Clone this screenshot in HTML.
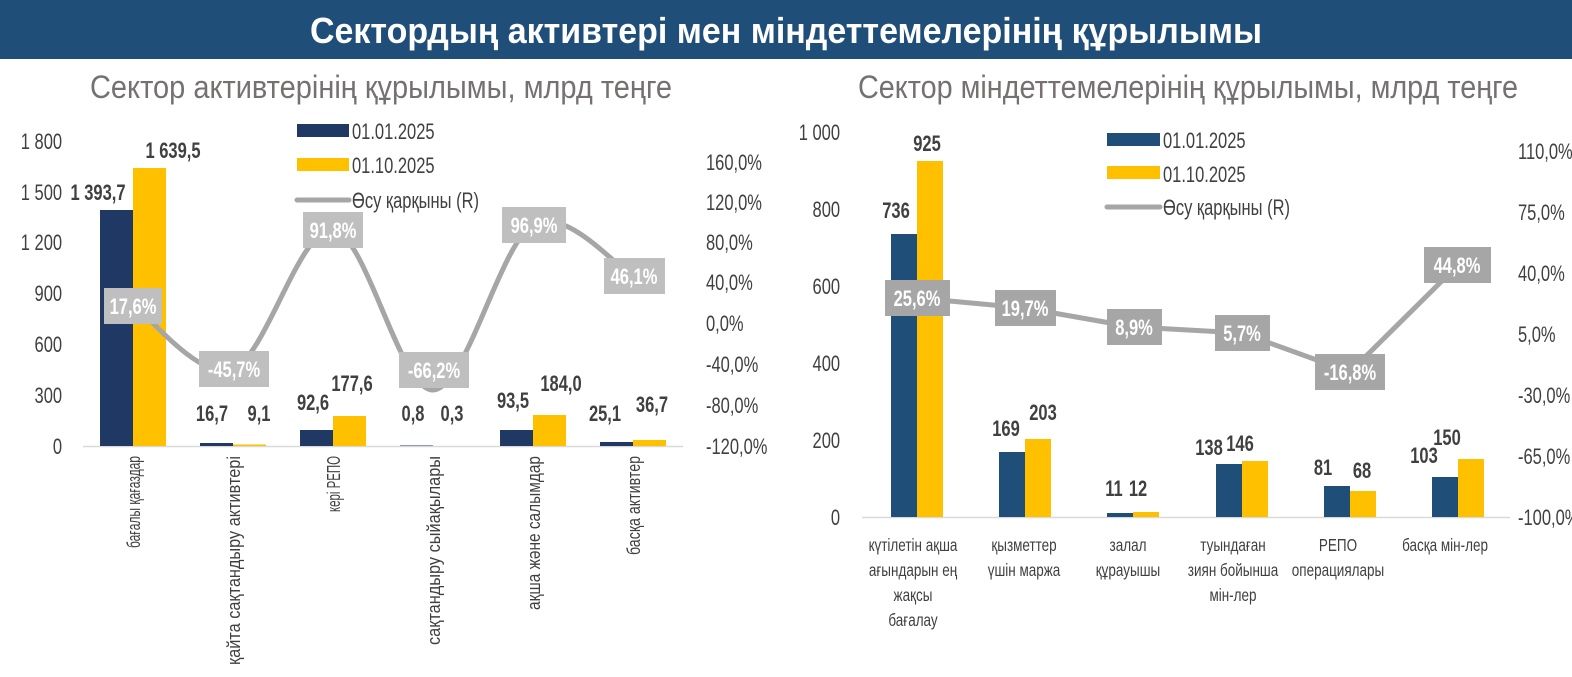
<!DOCTYPE html>
<html><head><meta charset="utf-8"><style>
body{margin:0;background:#fff;}
svg{display:block;font-family:"Liberation Sans Narrow","Liberation Sans",sans-serif;}
.t{fill:#404040;font-size:22px;}
.b{fill:#404040;font-size:22px;font-weight:bold;}
.w{fill:#fff;font-size:22px;font-weight:bold;}
.c{fill:#404040;font-size:18px;}
.sx text,text.sx{transform-box:fill-box;transform-origin:center;transform:scaleX(.75);}
.sl text,text.sl{transform-box:fill-box;transform-origin:left;transform:scaleX(.75);}
.sr text{transform-box:fill-box;transform-origin:right;transform:scaleX(.75);}
</style></head><body>
<svg width="1572" height="677" viewBox="0 0 1572 677">
<rect x="0" y="0" width="1572" height="59" fill="#1f4e79"/>
<text x="786" y="43" fill="#fff" font-size="36" font-weight="bold" text-anchor="middle" textLength="952" lengthAdjust="spacingAndGlyphs">Сектордың активтері мен міндеттемелерінің құрылымы</text>
<text x="90" y="98" fill="#767171" font-size="32" textLength="582" lengthAdjust="spacingAndGlyphs">Сектор активтерінің құрылымы, млрд теңге</text>
<text x="858" y="98" fill="#767171" font-size="32" textLength="660" lengthAdjust="spacingAndGlyphs">Сектор міндеттемелерінің құрылымы, млрд теңге</text>

<!-- LEFT CHART -->
<g class="t sr" text-anchor="end">
<text x="62" y="149">1 800</text><text x="62" y="200">1 500</text><text x="62" y="250">1 200</text>
<text x="62" y="301">900</text><text x="62" y="352">600</text><text x="62" y="403">300</text><text x="62" y="454">0</text>
</g>
<g class="t sl">
<text x="706" y="170">160,0%</text><text x="706" y="210">120,0%</text><text x="706" y="250">80,0%</text>
<text x="706" y="290">40,0%</text><text x="706" y="331">0,0%</text><text x="706" y="372">-40,0%</text>
<text x="706" y="413">-80,0%</text><text x="706" y="454">-120,0%</text>
</g>
<line x1="83" y1="446.5" x2="683" y2="446.5" stroke="#d9d9d9" stroke-width="1.5"/>
<g fill="#1f3864">
<rect x="100" y="210" width="33" height="236"/><rect x="200" y="443" width="33" height="3"/>
<rect x="300" y="430" width="33" height="16"/><rect x="400" y="445.5" width="33" height="0.5"/>
<rect x="500" y="430" width="33" height="16"/><rect x="600" y="442" width="33" height="4"/>
</g>
<g fill="#ffc000">
<rect x="133" y="168" width="33" height="278"/><rect x="233" y="444.5" width="33" height="1.5"/>
<rect x="333" y="416" width="33" height="30"/><rect x="533" y="415" width="33" height="31"/>
<rect x="633" y="440" width="33" height="6"/>
</g>
<path d="M133,305 C149.7,315.7 199.7,381.5 233,369 C266.3,356.5 299.7,226.5 333,230 C366.3,233.5 399.7,390.8 433,390 C466.3,389.2 499.7,244 533,225 C566.3,206 616.3,267.5 633,276" fill="none" stroke="#a6a6a6" stroke-width="5"/>
<g class="b sx" text-anchor="middle">
<text x="98" y="200">1 393,7</text><text x="173" y="158">1 639,5</text>
<text x="212" y="421">16,7</text><text x="259" y="421">9,1</text>
<text x="313" y="410">92,6</text><text x="352" y="391">177,6</text>
<text x="413" y="421">0,8</text><text x="452" y="421">0,3</text>
<text x="513" y="408">93,5</text><text x="561" y="391">184,0</text>
<text x="605" y="421">25,1</text><text x="652" y="412">36,7</text>
</g>
<g fill="#bfbfbf">
<rect x="104" y="288" width="58" height="36"/><rect x="199" y="351" width="70" height="36"/>
<rect x="303" y="212" width="60" height="36"/><rect x="399" y="352" width="70" height="36"/>
<rect x="502" y="207" width="64" height="36"/><rect x="604" y="258" width="61" height="36"/>
</g>
<g class="w sx" text-anchor="middle">
<text x="133" y="314">17,6%</text><text x="234" y="377">-45,7%</text><text x="333" y="238">91,8%</text>
<text x="434" y="378">-66,2%</text><text x="534" y="233">96,9%</text><text x="634" y="284">46,1%</text>
</g>
<rect x="297" y="124" width="52" height="13" fill="#1f3864"/>
<text x="352" y="139" class="t sl">01.01.2025</text>
<rect x="297" y="158" width="52" height="13" fill="#ffc000"/>
<text x="352" y="173" class="t sl">01.10.2025</text>
<line x1="297" y1="200" x2="349" y2="200" stroke="#a6a6a6" stroke-width="5" stroke-linecap="round"/>
<text x="352" y="208" class="t sl">Өсу қарқыны (R)</text>
<g class="c" text-anchor="end">
<text transform="translate(140,456) rotate(-90)" textLength="92" lengthAdjust="spacingAndGlyphs">бағалы қағаздар</text>
<text transform="translate(240,456) rotate(-90)" textLength="209" lengthAdjust="spacingAndGlyphs">қайта сақтандыру активтері</text>
<text transform="translate(340,456) rotate(-90)" textLength="56" lengthAdjust="spacingAndGlyphs">кері РЕПО</text>
<text transform="translate(440,456) rotate(-90)" textLength="189" lengthAdjust="spacingAndGlyphs">сақтандыру сыйақылары</text>
<text transform="translate(540,456) rotate(-90)" textLength="154" lengthAdjust="spacingAndGlyphs">ақша және салымдар</text>
<text transform="translate(640,456) rotate(-90)" textLength="99" lengthAdjust="spacingAndGlyphs">басқа активтер</text>
</g>

<!-- RIGHT CHART -->
<g class="t sr" text-anchor="end">
<text x="840" y="140">1 000</text><text x="840" y="217">800</text><text x="840" y="294">600</text>
<text x="840" y="371">400</text><text x="840" y="448">200</text><text x="840" y="525">0</text>
</g>
<g class="t sl">
<text x="1518" y="159">110,0%</text><text x="1518" y="220">75,0%</text><text x="1518" y="281">40,0%</text>
<text x="1518" y="342">5,0%</text><text x="1518" y="403">-30,0%</text><text x="1518" y="464">-65,0%</text>
<text x="1518" y="525">-100,0%</text>
</g>
<line x1="862" y1="517.5" x2="1510" y2="517.5" stroke="#d9d9d9" stroke-width="1.5"/>
<g fill="#1f4e79">
<rect x="891" y="234" width="26" height="283"/><rect x="999" y="452" width="26" height="65"/>
<rect x="1107" y="513" width="26" height="4"/><rect x="1216" y="464" width="26" height="53"/>
<rect x="1324" y="486" width="26" height="31"/><rect x="1432" y="477" width="26" height="40"/>
</g>
<g fill="#ffc000">
<rect x="917" y="161" width="26" height="356"/><rect x="1025" y="439" width="26" height="78"/>
<rect x="1133" y="512" width="26" height="5"/><rect x="1242" y="461" width="26" height="56"/>
<rect x="1350" y="491" width="26" height="26"/><rect x="1458" y="459" width="26" height="58"/>
</g>
<polyline points="917,298 1025,308 1133,327 1242,333 1350,372 1458,265" fill="none" stroke="#a6a6a6" stroke-width="5" stroke-linejoin="round"/>
<g class="b sx" text-anchor="middle">
<text x="896" y="218">736</text><text x="927" y="151">925</text>
<text x="1006" y="436">169</text><text x="1043" y="420">203</text>
<text x="1114" y="496">11</text><text x="1138" y="496">12</text>
<text x="1209" y="455">138</text><text x="1240" y="451">146</text>
<text x="1323" y="475">81</text><text x="1362" y="478">68</text>
<text x="1424" y="463">103</text><text x="1447" y="445">150</text>
</g>
<g fill="#a6a6a6">
<rect x="885" y="280" width="65" height="36"/><rect x="995" y="290" width="61" height="36"/>
<rect x="1107" y="309" width="55" height="36"/><rect x="1215" y="315" width="55" height="36"/>
<rect x="1315" y="354" width="70" height="36"/><rect x="1424" y="247" width="67" height="36"/>
</g>
<g class="w sx" text-anchor="middle">
<text x="917" y="306">25,6%</text><text x="1025" y="316">19,7%</text><text x="1134" y="335">8,9%</text>
<text x="1242" y="341">5,7%</text><text x="1350" y="380">-16,8%</text><text x="1457" y="273">44,8%</text>
</g>
<rect x="1107" y="133" width="53" height="13" fill="#1f4e79"/>
<text x="1163" y="148" class="t sl">01.01.2025</text>
<rect x="1107" y="166" width="53" height="13" fill="#ffc000"/>
<text x="1163" y="182" class="t sl">01.10.2025</text>
<line x1="1107" y1="207" x2="1160" y2="207" stroke="#a6a6a6" stroke-width="5" stroke-linecap="round"/>
<text x="1163" y="215" class="t sl">Өсу қарқыны (R)</text>
<g class="c sx" text-anchor="middle">
<text x="913" y="551">күтілетін ақша</text><text x="913" y="576">ағындарын ең</text>
<text x="913" y="601">жақсы</text><text x="913" y="626">бағалау</text>
<text x="1024" y="551">қызметтер</text><text x="1024" y="576">үшін маржа</text>
<text x="1128" y="551">залал</text><text x="1128" y="576">құрауышы</text>
<text x="1233" y="551">туындаған</text><text x="1233" y="576">зиян бойынша</text><text x="1233" y="601">мін-лер</text>
<text x="1338" y="551">РЕПО</text><text x="1338" y="576">операциялары</text>
<text x="1445" y="551">басқа мін-лер</text>
</g>
</svg>
</body></html>
